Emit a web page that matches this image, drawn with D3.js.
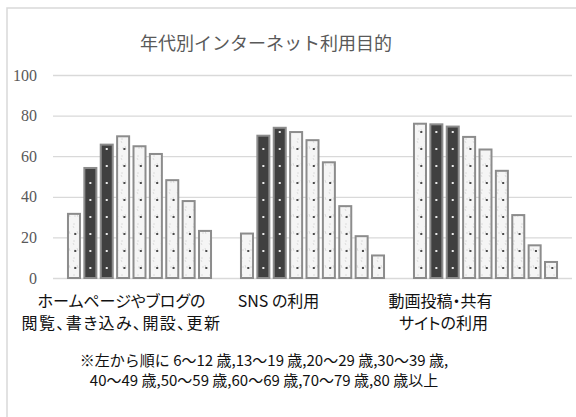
<!DOCTYPE html>
<html>
<head>
<meta charset="utf-8">
<script src="https://cdn.jsdelivr.net/npm/d3@7"></script>
<style>
  html, body { margin: 0; padding: 0; background: #ffffff; }
  svg { display: block; }
  .cat { font-feature-settings: "palt"; }
</style>
</head>
<body>
<svg id="chart" width="576" height="417"></svg>
<script>
// Internet usage purpose by age group (%)
const title = "年代別インターネット利用目的";
const purposes = ["hp", "sns", "video"];
const purposeLabels = [
  ["ホームページやブログの", "閲覧、書き込み、開設、更新"],
  ["SNS の利用"],
  ["動画投稿・共有", "サイトの利用"]
];
const ageGroups = ["6～12歳", "13～19歳", "20～29歳", "30～39歳", "40～49歳",
                   "50～59歳", "60～69歳", "70～79歳", "80歳以上"];
const homepageBlog = [31.6, 54.2, 65.7, 69.8, 64.9, 61.1, 48.2, 37.9, 23.2];
const snsUse       = [21.9, 70.1, 74.0, 71.9, 67.9, 57.0, 35.4, 20.6, 11.1];
const videoSites   = [76.0, 75.7, 74.6, 69.5, 63.3, 52.8, 31.0, 16.1, 7.9];
const highlighted  = ["13～19歳", "20～29歳"];
const yTicks = [0, 20, 40, 60, 80, 100];
const note = [
  "※左から順に 6～12 歳,13～19 歳,20～29 歳,30～39 歳,",
  "40～49 歳,50～59 歳,60～69 歳,70～79 歳,80 歳以上"
];

const seriesByPurpose = [homepageBlog, snsUse, videoSites];

const svg = d3.select("#chart");
const plot = { left: 53, right: 572, top: 75, bottom: 278 };

const x0 = d3.scaleBand().domain(purposes)
  .range([plot.left, plot.right]).paddingInner(0.15).paddingOuter(0.075);
const x1 = d3.scaleBand().domain(ageGroups)
  .range([0, x0.bandwidth()]).paddingInner(0.267).paddingOuter(0.122);
const y = d3.scaleLinear().domain([0, 100]).range([plot.bottom, plot.top]);

const gothic = "'Noto Sans CJK JP', 'Noto Sans', sans-serif";

// outer frame
svg.append("path")
  .attr("d", "M7,417 L7,8 L576,8")
  .attr("fill", "none").attr("stroke", "#d9d9d9").attr("stroke-width", 1.5);

// title
svg.append("text")
  .attr("x", 266).attr("y", 50)
  .attr("text-anchor", "middle")
  .style("font-family", gothic).style("font-size", "18px")
  .attr("fill", "#595959")
  .text(title);

// gridlines + value axis
const yAxis = d3.axisLeft(y).tickValues(yTicks)
  .tickSize(-(plot.right - plot.left)).tickPadding(16);
const gy = svg.append("g").attr("transform", `translate(${plot.left},0)`).call(yAxis);
gy.attr("font-family", "'Liberation Serif', 'Times New Roman', serif").attr("font-size", 16);
gy.select(".domain").remove();
gy.selectAll(".tick line").attr("stroke", "#d9d9d9").attr("stroke-width", 1.3);
gy.selectAll(".tick text").attr("fill", "#595959");

// faint texture for the light bars
const defs = svg.append("defs");
const pat = defs.append("pattern")
  .attr("id", "lightTex").attr("patternUnits", "userSpaceOnUse")
  .attr("width", 8).attr("height", 17);
pat.append("rect").attr("width", 8).attr("height", 17).attr("fill", "#f5f5f5");
pat.append("path").attr("d", "M1,3 L3,3 M1,5 L2,7 M5,10 L6,13 M2,12 L4,12")
  .attr("stroke", "#d6d6d6").attr("stroke-width", 0.8).attr("fill", "none");

const bars = [];
seriesByPurpose.forEach((vals, gi) => {
  vals.forEach((v, ai) => bars.push({ purpose: purposes[gi], age: ageGroups[ai], value: v }));
});

const barG = svg.append("g");
barG.selectAll("rect.bar").data(bars).join("rect")
  .attr("class", "bar")
  .attr("x", d => x0(d.purpose) + x1(d.age))
  .attr("y", d => y(d.value))
  .attr("width", x1.bandwidth())
  .attr("height", d => y(0) - y(d.value))
  .attr("fill", d => highlighted.includes(d.age) ? "#404040" : "url(#lightTex)")
  .attr("stroke", "#8c8c8c").attr("stroke-width", 2);

// dotted fill on every bar
const dots = [];
bars.forEach(d => {
  const dark = highlighted.includes(d.age);
  const cx = x0(d.purpose) + x1(d.age) + x1.bandwidth() / 2 + (dark ? 0 : 1.3);
  for (let yy = y(0) - 10; yy > y(d.value) + 4; yy -= 17) {
    dots.push({ cx, cy: yy, dark });
  }
});
barG.selectAll("rect.dot").data(dots).join("rect")
  .attr("class", "dot")
  .attr("x", d => d.cx - 1).attr("y", d => d.cy - 1)
  .attr("width", 2).attr("height", 2)
  .attr("fill", d => d.dark ? "#ececec" : "#4a4a4a");

// category labels under each group
const labelShift = [-18, -34, -45];
purposes.forEach((p, gi) => {
  const cx = x0(p) + x0.bandwidth() / 2 + labelShift[gi];
  purposeLabels[gi].forEach((line, li) => {
    svg.append("text")
      .attr("class", "cat")
      .attr("x", cx + (li === 1 && gi === 2 ? 3 : 0))
      .attr("y", 307 + li * 22)
      .attr("text-anchor", "middle")
      .style("font-family", gothic).style("font-size", "16px")
      .style("letter-spacing", li === 1 && gi === 0 ? "1.4px" : null)
      .attr("fill", "#111")
      .text(line);
  });
});

// age-order note
note.forEach((line, i) => {
  svg.append("text")
    .attr("x", 264).attr("y", 366 + i * 20)
    .attr("text-anchor", "middle")
    .style("font-family", gothic).style("font-size", "15px")
    .attr("fill", "#111")
    .text(line);
});
</script>
</body>
</html>
